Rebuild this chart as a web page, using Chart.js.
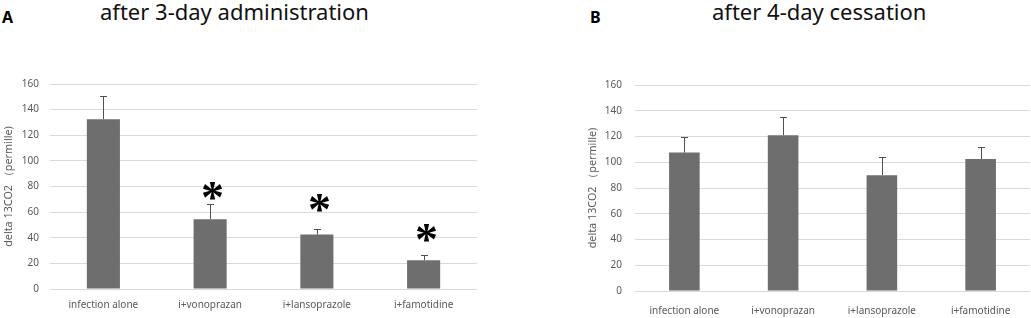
<!DOCTYPE html>
<html>
<head>
<meta charset="utf-8">
<script src="https://cdn.jsdelivr.net/npm/chart.js@4.4.1/dist/chart.umd.min.js"></script>
<style>
  html, body { margin: 0; padding: 0; background: #fff; }
  #wrap { position: relative; width: 1031px; height: 318px; overflow: hidden; font-family: "Noto Sans", sans-serif; }
  .box { position: absolute; top: 0; height: 318px; }
  .lbl { position: absolute; font-weight: bold; font-size: 16px; color: #000; }
  .ttl { position: absolute; font-size: 22px; color: #111; white-space: nowrap; }
</style>
</head>
<body>
<div id="wrap">
  <div class="lbl" style="left:2px; top:6px;">A</div>
  <div class="ttl" style="left:100px; top:-4px;">after 3-day administration</div>
  <div class="lbl" style="left:590px; top:6px;">B</div>
  <div class="ttl" style="left:712px; top:-4px;">after 4-day cessation</div>
  <div class="box" style="left:0; width:520px;"><canvas id="chartA"></canvas></div>
  <div class="box" style="left:520px; width:511px;"><canvas id="chartB"></canvas></div>
</div>
<script>
// groups on the x axis
const groups = ['infection alone', 'i+vonoprazan', 'i+lansoprazole', 'i+famotidine'];
const yTicks = [0, 20, 40, 60, 80, 100, 120, 140, 160];
const yTitle = 'delta 13CO2 （permille)';

// panel A: after 3-day administration
const meanA = [132.5, 54.5, 42.5, 22.5];
const errA = [18, 11.5, 4, 4];
// significance marks (null = none), value where the asterisk sits
const starA = [null, 76, 66.5, 43];

// panel B: after 4-day cessation
const meanB = [107.5, 121, 90, 102.5];
const errB = [12, 14, 14, 9];
const starB = [null, null, null, null];

const grey = '#595959';

const errorBars = {
  id: 'errorBars',
  afterDatasetsDraw(chart, args, opts) {
    const ctx = chart.ctx;
    const yScale = chart.scales.y;
    const meta = chart.getDatasetMeta(0);
    const ds = chart.data.datasets[0];
    ctx.save();
    ctx.strokeStyle = '#505050';
    ctx.lineWidth = 1;
    meta.data.forEach((bar, i) => {
      const x = Math.round(bar.x) + 0.5;
      const top = yScale.getPixelForValue(ds.data[i] + opts.err[i]);
      ctx.beginPath();
      ctx.moveTo(x, bar.y);
      ctx.lineTo(x, Math.round(top) + 0.5);
      ctx.moveTo(x - 3.5, Math.round(top) + 0.5);
      ctx.lineTo(x + 3.5, Math.round(top) + 0.5);
      ctx.stroke();
      if (opts.stars[i] != null) {
        ctx.fillStyle = '#000';
        ctx.font = 'bold 46px "Liberation Serif"';
        ctx.textAlign = 'center';
        ctx.textBaseline = 'middle';
        // the glyph sits high in its box, so push it down
        ctx.fillText('*', x + 2, yScale.getPixelForValue(opts.stars[i]) + 9);
      }
    });
    ctx.restore();
  }
};

function makeChart(id, mean, err, stars, pad, yWidth, xHeight, xPad, yPad) {
  return new Chart(document.getElementById(id), {
    type: 'bar',
    data: {
      labels: groups,
      datasets: [{
        data: mean,
        backgroundColor: '#6e6e6e',
        categoryPercentage: 1,
        barPercentage: 0.31
      }]
    },
    options: {
      responsive: true,
      maintainAspectRatio: false,
      animation: false,
      layout: { padding: pad },
      plugins: {
        legend: { display: false },
        tooltip: { enabled: false },
        errorBars: { err: err, stars: stars }
      },
      scales: {
        x: {
          grid: { display: false, drawTicks: false },
          border: { display: false },
          ticks: { color: grey, font: { family: 'Noto Sans', size: 10 }, padding: xPad, maxRotation: 0 },
          afterFit(s) { s.height = xHeight; }
        },
        y: {
          min: 0, max: 160,
          afterBuildTicks(s) { s.ticks = yTicks.map(v => ({ value: v })); },
          grid: { color: '#d9d9d9', drawTicks: false },
          border: { display: false },
          ticks: { color: grey, font: { family: 'Noto Sans', size: 10 }, padding: yPad },
          title: { display: true, text: yTitle, color: grey, font: { family: 'Noto Sans', size: 10.8 }, padding: 0 },
          afterFit(s) { s.width = yWidth; }
        }
      }
    },
    plugins: [errorBars]
  });
}

makeChart('chartA', meanA, errA, starA, { left: 2, top: 84, right: 43, bottom: 0 }, 48, 29, 10, 11);
makeChart('chartB', meanB, errB, starB, { left: 66, top: 85, right: 1, bottom: 0 }, 49, 27, 14, 13);
</script>
</body>
</html>
